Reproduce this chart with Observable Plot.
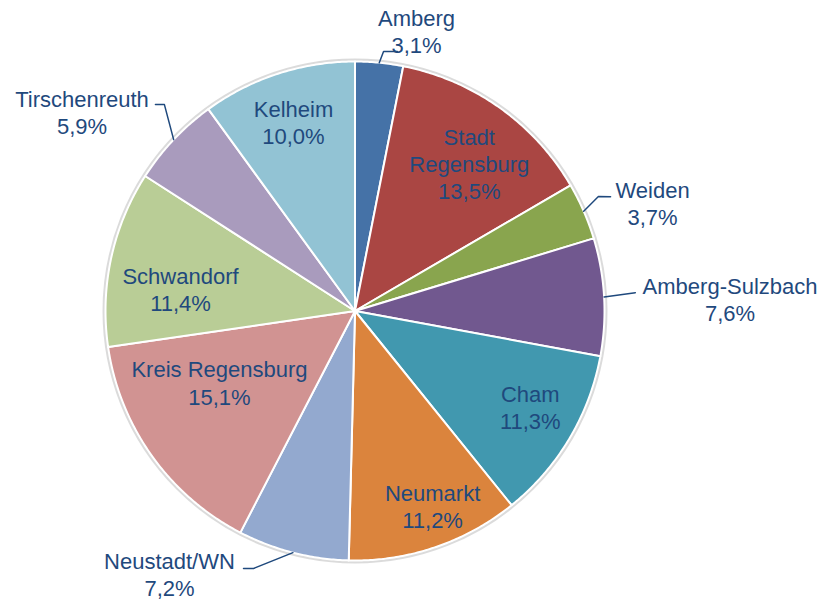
<!DOCTYPE html>
<html><head><meta charset="utf-8">
<script src="https://cdn.jsdelivr.net/npm/d3@7"></script>
<script src="https://cdn.jsdelivr.net/npm/@observablehq/plot@0.6"></script>
<style>body{margin:0;background:#fff;}</style>
</head><body><div id="chart"></div>
<script>
// ---- data ----
const names = ["Amberg","Stadt Regensburg","Weiden","Amberg-Sulzbach","Cham","Neumarkt","Neustadt/WN","Kreis Regensburg","Schwandorf","Tirschenreuth","Kelheim"];
const shares = [3.1, 13.5, 3.7, 7.6, 11.3, 11.2, 7.2, 15.1, 11.4, 5.9, 10.0];
const labelNames = ["Amberg","Stadt\nRegensburg","Weiden","Amberg-Sulzbach","Cham","Neumarkt","Neustadt/WN","Kreis Regensburg","Schwandorf","Tirschenreuth","Kelheim"];
const colors = ["#4572a7","#aa4643","#89a54e","#71588f","#4198af","#db843d","#93a9cf","#d19392","#b9cd96","#a99bbd","#92c3d4"];

// ---- layout (label placement, polar: radius factor, angle offset in degrees from slice middle) ----
const W = 823, H = 600, CX = 354.5, CY = 310.5, R = 249.5;
const labelR  = [1.151, 0.748, 1.269, 1.504, 0.80, 0.84, 1.290, 0.614, 0.705, 1.354, 0.798];
const labelDA = [6.8, 2.3, 3.6, 1.4, -2.2, -3, 20.8, 7.7, -4.9, -7.3, 0];
const leaders = {
  0: [[1.046, 0.7], [1.054, 3.7]],
  2: [[1.078, -1.6], [1.122, -0.5]],
  3: [[1.126, -0.5], [1.126, -0.5]],
  6: [[1.109, 7.1], [1.125, 9.0]],
  9: [[1.126, 3.9], [1.151, 2.6]]
};

const fmt = v => v.toFixed(1).replace(".", ",") + "%";
const arcs = d3.pie().sort(null).value(d => d)(shares);
const pol = (r, a) => ({x: r * Math.sin(a), y: r * Math.cos(a)});

const slicePts = [];
arcs.forEach((a, i) => {
  slicePts.push({name: names[i], ...pol(0, 0)});
  const n = Math.max(2, Math.ceil((a.endAngle - a.startAngle) / (Math.PI / 360)));
  for (let k = 0; k <= n; k++) {
    const t = a.startAngle + (a.endAngle - a.startAngle) * k / n;
    slicePts.push({name: names[i], ...pol(1, t)});
  }
});

const deg = Math.PI / 180;
const labelData = arcs.map((a, i) => {
  const mid = (a.startAngle + a.endAngle) / 2;
  return {name: names[i], text: labelNames[i] + "\n" + fmt(shares[i]), ...pol(labelR[i], mid + labelDA[i] * deg)};
});

const leaderPts = [];
Object.entries(leaders).forEach(([k, pts]) => {
  const a = arcs[+k];
  const mid = (a.startAngle + a.endAngle) / 2;
  leaderPts.push({name: names[k], ...pol(1, mid)});
  pts.forEach(([r, da]) => leaderPts.push({name: names[k], ...pol(r, mid + da * deg)}));
});

const chart = Plot.plot({
  width: W, height: H,
  margin: 0,
  style: {fontFamily: "'Liberation Sans', Arial, sans-serif", background: "#fff"},
  x: {domain: [(0 - CX) / R, (W - CX) / R], axis: null},
  y: {domain: [(CY - H) / R, CY / R], axis: null},
  color: {type: "ordinal", domain: names, range: colors},
  marks: [
    Plot.dot([{x: 0, y: 0}], {x: "x", y: "y", r: R + 1.5, fill: "none", stroke: "#888", strokeOpacity: 0.3, strokeWidth: 3}),
    Plot.line(slicePts, {x: "x", y: "y", z: "name", fill: "name", stroke: "#fff", strokeWidth: 2, strokeLinejoin: "round", curve: "linear-closed"}),
    Plot.line(leaderPts, {x: "x", y: "y", z: "name", stroke: "#1F497D", strokeWidth: 1.5}),
    Plot.text(labelData, {x: "x", y: "y", text: "text", fontSize: 22, lineHeight: 1.23, fill: "#1F497D"})
  ]
});
document.getElementById("chart").append(chart);
</script>
</body></html>
